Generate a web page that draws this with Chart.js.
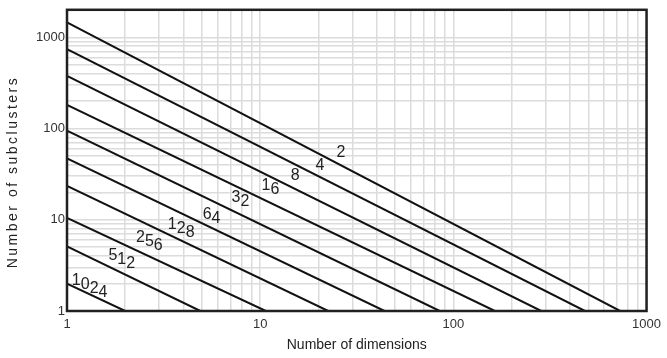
<!DOCTYPE html>
<html>
<head>
<meta charset="utf-8">
<script src="https://cdn.jsdelivr.net/npm/chart.js@4/dist/chart.umd.min.js"></script>
<style>
  html, body { margin: 0; padding: 0; background: #fff; }
  #wrap { width: 667px; height: 358px; }
</style>
</head>
<body>
<div id="wrap"><canvas id="grafica"></canvas></div>
<script>
// etiquetas de cada recta (numero que va escrito sobre la linea)
const lineLabels = ['2', '4', '8', '16', '32', '64', '128', '256', '512', '1024'];
// valor de subclusters donde cada recta arranca (dimensiones = 1)
const startSubclusters = [1458, 740, 377, 182, 95, 47, 23.5, 10.5, 5.1, 2.0];
// dimensiones donde cada recta llega a 1 subcluster
const endDimensions = [730, 480, 285, 164, 85, 44, 22.5, 10.7, 4.9, 2.0];
// donde se escribe cada etiqueta (dimensiones, subclusters)
const labelDims = [26.2, 20.4, 15.2, 11.3, 7.9, 5.6, 3.9, 2.67, 1.92, 1.31];
const labelSubs = [51.5, 37.2, 29.0, 21.5, 15.9, 10.4, 7.55, 5.45, 3.48, 1.78];
// marcas de los ejes
const xTicks = [1, 2, 3, 4, 5, 6, 7, 8, 9, 10, 20, 30, 40, 50, 60, 70, 80, 90, 100, 200, 300, 400, 500, 600, 700, 800, 900, 1000];
const yTicks = [1, 2, 3, 4, 5, 6, 7, 8, 9, 10, 20, 30, 40, 50, 60, 70, 80, 90, 100, 200, 300, 400, 500, 600, 700, 800, 900, 1000, 2000];
const majorTicks = [1, 10, 100, 1000];

const fuente = "'Liberation Sans', Arial, sans-serif";

const datasets = lineLabels.map(function(lbl, i) {
  return {
    label: lbl,
    data: [{ x: 1, y: startSubclusters[i] }, { x: endDimensions[i], y: 1 }],
    borderColor: '#111',
    borderWidth: 2,
    pointRadius: 0,
    fill: false
  };
});

// dibuja marco, titulo vertical espaciado y numeros sobre las rectas
const extras = {
  id: 'extras',
  afterDatasetsDraw(chart) {
    const ctx = chart.ctx;
    const xs = chart.scales.x, ys = chart.scales.y;
    ctx.save();
    ctx.fillStyle = '#222';
    ctx.font = '16px ' + fuente;
    ctx.textBaseline = 'middle';
    ctx.textAlign = 'left';
    lineLabels.forEach(function(lbl, i) {
      const px = xs.getPixelForValue(labelDims[i]);
      const py = ys.getPixelForValue(labelSubs[i]);
      const total = ctx.measureText(lbl).width;
      let cx = px - total / 2;
      let cy = py - total * 0.45 / 2;
      for (const ch of lbl) {
        const w = ctx.measureText(ch).width;
        ctx.fillText(ch, cx, cy);
        cx += w;
        cy += w * 0.45;
      }
    });
    ctx.restore();
  },
  afterDraw(chart) {
    const ctx = chart.ctx;
    const a = chart.chartArea;
    ctx.save();
    ctx.strokeStyle = '#231f20';
    ctx.lineWidth = 2.5;
    ctx.strokeRect(a.left, a.top, a.right - a.left, a.bottom - a.top);
    // titulo del eje y con letras separadas
    ctx.translate(13, 172);
    ctx.rotate(-Math.PI / 2);
    ctx.fillStyle = '#222';
    ctx.font = '14px ' + fuente;
    ctx.letterSpacing = '2.5px';
    ctx.textAlign = 'center';
    ctx.textBaseline = 'middle';
    ctx.fillText('Number of subclusters', 0, 0);
    ctx.restore();
  }
};

function soloMayores(value) {
  return majorTicks.includes(value) ? String(value) : '';
}

new Chart(document.getElementById('grafica'), {
  type: 'line',
  data: { datasets: datasets },
  options: {
    responsive: true,
    maintainAspectRatio: false,
    animation: false,
    parsing: true,
    layout: { padding: { top: 7, right: 16, left: 0, bottom: 0 } },
    plugins: {
      legend: { display: false },
      tooltip: { enabled: false }
    },
    scales: {
      x: {
        type: 'logarithmic',
        min: 1,
        max: 1000,
        afterBuildTicks: function(scale) { scale.ticks = xTicks.map(v => ({ value: v })); },
        afterFit: function(scale) { scale.height = 47; },
        grid: { color: '#dcdcdc', lineWidth: 1.5, drawTicks: false },
        border: { display: false },
        ticks: {
          autoSkip: false, maxRotation: 0, padding: 6,
          color: '#333', font: { family: fuente, size: 13 },
          callback: soloMayores
        },
        title: {
          display: true, text: 'Number of dimensions',
          color: '#222', font: { family: fuente, size: 14 }, padding: { top: 0 }
        }
      },
      y: {
        type: 'logarithmic',
        min: 1,
        max: 2000,
        afterBuildTicks: function(scale) { scale.ticks = yTicks.map(v => ({ value: v })); },
        afterFit: function(scale) { scale.width = 67; },
        grid: { color: '#dcdcdc', lineWidth: 1.5, drawTicks: false },
        border: { display: false },
        ticks: {
          autoSkip: false, padding: 2,
          color: '#333', font: { family: fuente, size: 13 },
          callback: soloMayores
        }
      }
    }
  },
  plugins: [extras]
});
</script>
</body>
</html>
